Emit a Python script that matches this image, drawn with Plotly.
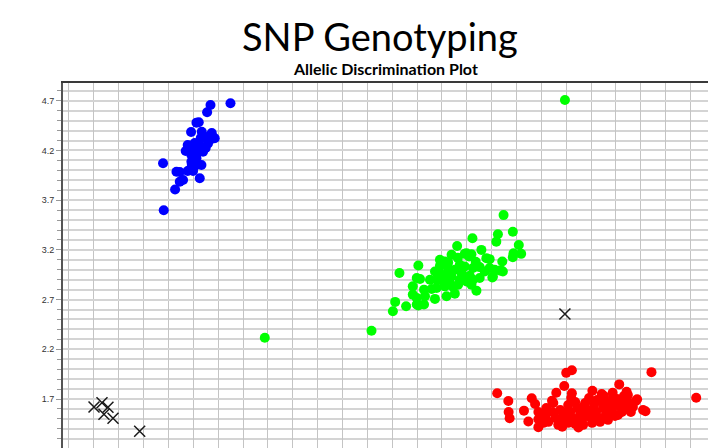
import plotly.graph_objects as go

# Allele 1 (x) / Allele 2 (y) signal per call group
blue_x = [2.874, 2.673, 2.639, 2.532, 2.555, 2.478, 2.585, 2.615, 2.699, 2.716, 2.666, 2.649,
          2.498, 2.464, 2.548, 2.598, 2.515, 2.481, 2.532, 2.196, 2.481, 2.582, 2.464, 2.498,
          2.331, 2.364, 2.565, 2.397, 2.364, 2.317, 2.203, 2.444, 2.515, 2.565, 2.625, 2.464,
          2.535, 2.485, 2.444, 2.686, 2.575, 2.424, 2.515]
blue_y = [4.675, 4.658, 4.584, 4.480, 4.484, 4.386, 4.389, 4.339, 4.333, 4.323, 4.306, 4.272,
          4.255, 4.238, 4.222, 4.188, 4.188, 4.155, 4.122, 4.071, 4.087, 4.054, 4.004, 3.994,
          3.987, 3.984, 3.920, 3.903, 3.886, 3.808, 3.598, 4.255, 4.275, 4.255, 4.225, 4.205,
          4.175, 4.054, 3.994, 4.376, 4.326, 4.195, 4.044]

green_x = [6.237, 3.219, 4.292,
           5.62, 5.713, 5.563, 5.547, 5.307, 5.773, 5.72, 5.797, 5.713, 5.153, 5.397, 5.247,
           5.297, 5.097, 5.447, 5.607, 4.98, 5.03, 4.763, 4.573, 5.597, 5.507, 5.347, 4.707,
           4.747, 4.707, 4.82, 4.93, 5.047, 5.13, 4.53, 4.507, 4.64, 4.763, 4.82, 5.23, 5.273,
           5.48, 5.013, 5.063, 4.98, 5.18, 5.23, 5.313, 5.38, 5.48, 5.53, 5.58, 4.93, 4.98,
           5.047, 5.097, 4.78, 4.88, 4.947, 5.013, 5.08, 5.18, 5.247, 5.313, 5.38, 5.43, 5.513,
           5.613, 4.897, 4.947, 5.03, 5.113, 5.163, 5.297, 4.747, 4.83, 4.747,
           5.13, 5.20, 5.28, 5.06, 5.16, 5.34]
green_y = [4.708, 2.317, 2.387,
           3.55, 3.383, 3.357, 3.283, 3.317, 3.25, 3.167, 3.16, 3.127, 3.24, 3.20, 3.167,
           3.157, 3.15, 3.117, 3.083, 3.10, 3.083, 3.043, 2.967, 2.993, 2.923, 2.79, 2.833,
           2.917, 2.75, 2.80, 2.707, 2.733, 2.76, 2.677, 2.583, 2.633, 2.64, 2.65, 3.16, 3.133,
           3.107, 3.067, 3.073, 3.04, 3.05, 3.033, 3.017, 3.027, 3.017, 3.00, 2.993, 2.983, 2.967,
           2.95, 2.933, 2.907, 2.90, 2.90, 2.883, 2.867, 2.90, 2.883, 2.90, 2.917, 2.983, 2.933,
           2.983, 2.807, 2.817, 2.833, 2.827, 2.85, 2.85, 2.717, 2.733, 2.65,
           3.00, 2.96, 2.94, 3.02, 3.12, 3.08]

red_x = [5.556, 5.668, 5.671, 5.681, 5.825, 5.869, 5.903, 5.937, 5.970, 5.970, 6.25, 6.307,
         7.107, 7.557, 6.23, 6.15, 6.307, 6.513, 6.607, 6.783, 6.717, 6.857, 6.107, 6.963,
         7.023, 7.047, 6.857, 6.807, 6.373,
         5.99, 6.04, 6.07, 6.11, 6.14, 6.17, 6.19, 6.22, 6.25, 6.27, 6.29, 6.31, 6.34, 6.36,
         6.39, 6.41, 6.44, 6.46, 6.49, 6.51, 6.53, 6.55, 6.58, 6.60, 6.62, 6.65, 6.67, 6.69,
         6.71, 6.74, 6.76, 6.79, 6.81, 6.84, 6.87, 6.89, 6.92, 6.95, 6.19, 6.24, 6.34, 6.42,
         6.48, 6.59, 6.72, 6.77, 6.63, 6.05, 6.12, 6.30, 6.56, 6.83, 6.90, 6.37, 6.47, 6.68,
         6.02, 6.21, 6.53, 6.75, 6.42, 6.27, 5.97, 6.87, 6.64]
red_y = [1.757, 1.680, 1.570, 1.507, 1.583, 1.473, 1.707, 1.650, 1.497, 1.417, 1.963, 1.990,
         1.970, 1.713, 1.83, 1.763, 1.757, 1.783, 1.75, 1.847, 1.763, 1.773, 1.683, 1.697,
         1.59, 1.577, 1.707, 1.657, 1.413,
         1.51, 1.54, 1.47, 1.57, 1.51, 1.44, 1.59, 1.53, 1.48, 1.64, 1.57, 1.51, 1.45, 1.61,
         1.55, 1.49, 1.66, 1.59, 1.52, 1.46, 1.64, 1.57, 1.51, 1.68, 1.61, 1.55, 1.49, 1.66,
         1.59, 1.53, 1.70, 1.63, 1.57, 1.67, 1.60, 1.65, 1.62, 1.68, 1.49, 1.56, 1.67, 1.44,
         1.71, 1.47, 1.71, 1.54, 1.73, 1.61, 1.66, 1.71, 1.69, 1.73, 1.57, 1.50, 1.56, 1.57,
         1.46, 1.42, 1.49, 1.64, 1.62, 1.46, 1.57, 1.74, 1.64]

ntc_x = [1.502, 1.582, 1.642, 1.602, 1.693, 1.961, 6.237]
ntc_y = [1.620, 1.663, 1.617, 1.546, 1.506, 1.375, 2.555]

y_labels = [1.7, 2.2, 2.7, 3.2, 3.7, 4.2, 4.7]

fig = go.Figure()
for xs, ys, col in [(blue_x, blue_y, "#0000ff"), (green_x, green_y, "#00ff00"), (red_x, red_y, "#ff0000")]:
    fig.add_trace(go.Scatter(x=xs, y=ys, mode="markers",
                             marker=dict(color=col, size=10, line=dict(width=0)),
                             showlegend=False, hoverinfo="x+y"))
fig.add_trace(go.Scatter(x=ntc_x, y=ntc_y, mode="markers",
                         marker=dict(symbol="x-thin", size=11, line=dict(color="#1a1a1a", width=1.5)),
                         showlegend=False))

fig.update_layout(
    width=708, height=440,
    margin=dict(l=55, r=0, t=75, b=0),
    paper_bgcolor="white", plot_bgcolor="white",
    font=dict(family="Liberation Sans, Arial", color="#333333"),
    xaxis=dict(range=[1.19, 7.756], side="top", showticklabels=False, ticks="",
               tick0=1.25, dtick=0.25, showgrid=True, gridcolor="#c4c4c4", gridwidth=1,
               zeroline=False, showline=True, linecolor="#3a3a3a", linewidth=2),
    yaxis=dict(range=[1.207, 4.879], tickvals=y_labels, ticktext=[f"{v:.1f}" for v in y_labels],
               ticks="outside", ticklen=5, tickcolor="#999999", tickwidth=1,
               tickfont=dict(size=9, color="#333333"),
               showgrid=True, gridcolor="#d4d4d4", gridwidth=1.5,
               minor=dict(tick0=1.7, dtick=0.1, showgrid=True, gridcolor="#d4d4d4", gridwidth=1.5,
                          ticks="outside", ticklen=4, tickcolor="#999999"),
               zeroline=False, showline=True, linecolor="#555555", linewidth=2),
    annotations=[
        dict(text="SNP Genotyping", xref="paper", yref="paper", x=0.4855, y=1.129,
             xanchor="center", yanchor="middle", showarrow=False,
             font=dict(family="Lato", size=38, color="#000000")),
        dict(text="<b>Allelic Discrimination Plot</b>", xref="paper", yref="paper", x=0.4946, y=1.040,
             xanchor="center", yanchor="middle", showarrow=False,
             font=dict(family="Lato", size=16, color="#000000")),
    ],
)

fig.write_html("out.html")
